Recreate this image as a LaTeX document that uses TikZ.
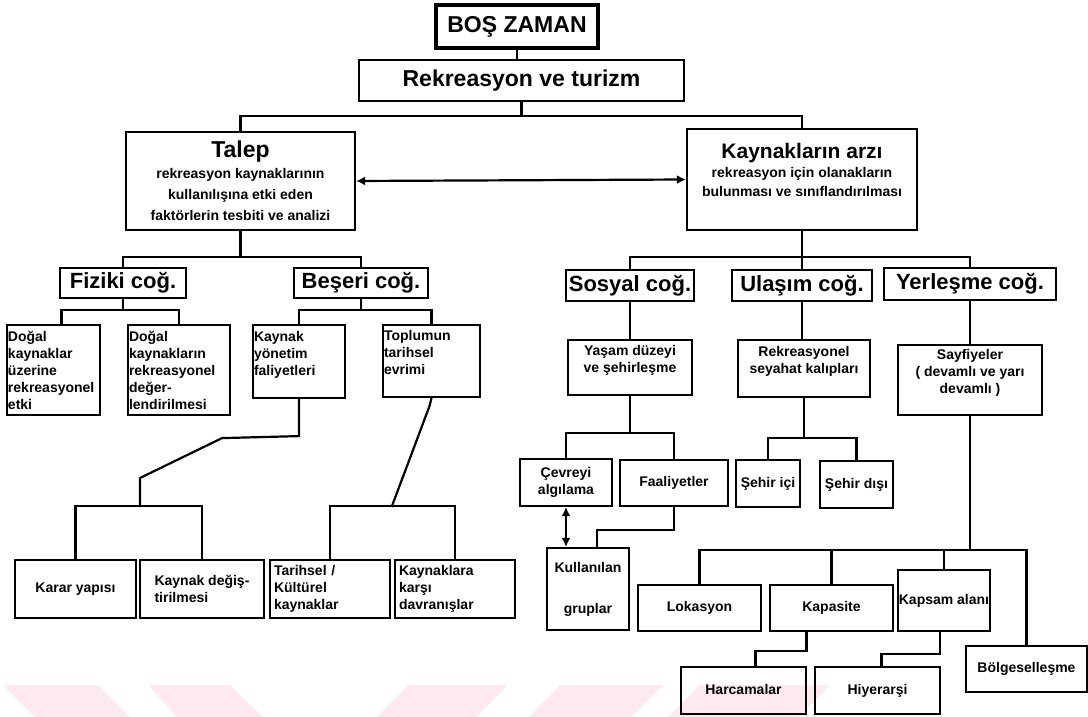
\documentclass[tikz,border=0pt]{standalone}
\usepackage{fontspec}
\setmainfont{Liberation Sans}
\usetikzlibrary{arrows.meta,calc,positioning}
\definecolor{wmpink}{RGB}{252,234,238}

\begin{document}
\begin{tikzpicture}[
    x=1pt, y=-1pt,
    line width=2.2pt, line cap=rect,
    box/.style={draw, line width=2.2pt, inner sep=2pt, align=center,
      font=\fontsize{14}{17}\selectfont\bfseries},
    onebox/.style={box, text height=10pt, text depth=3pt},
    headbox/.style={box, text height=17pt, text depth=5pt, font=\fontsize{23}{27}\selectfont\bfseries},
    cogbox/.style={box, inner sep=1pt, text height=16pt, text depth=5pt, font=\fontsize{22}{25}\selectfont\bfseries},
    leftbox/.style={box, align=left, inner sep=1pt},
    dbl/.style={line cap=butt, {Latex[length=9pt,width=9pt]}-{Latex[length=9pt,width=9pt]}},
 ]
    \path[use as bounding box, fill=white] (0,0) rectangle (1088,717);
    \fill[wmpink] (3,685) -- (98,685) -- (130,717) -- (35,717) -- cycle;
    \fill[wmpink] (148,685) -- (230,685) -- (263,717) -- (177,717) -- cycle;
    \fill[wmpink] (408,685) -- (508,685) -- (477,717) -- (377,717) -- cycle;
    \fill[wmpink] (560,685) -- (663,685) -- (632,717) -- (529,717) -- cycle;
    \fill[wmpink] (700,685) -- (830,685) -- (799,717) -- (669,717) -- cycle;

    \node[headbox, line width=3.2pt, minimum width=162pt, minimum height=43pt] (boszaman) at (517,26.5) {BOŞ ZAMAN};
    \node[headbox, minimum width=325pt, minimum height=41pt] (rekturizm) at (521.5,80.5) {Rekreasyon ve turizm};
    \node[box, minimum width=229pt, minimum height=98pt, font=\fontsize{14}{21}\selectfont\bfseries] (talep) at (240.5,181)
        {{\fontsize{23}{22}\selectfont Talep}\\rekreasyon kaynaklarının\\kullanılışına etki eden\\faktörlerin tesbiti ve analizi};
    \node[box, minimum width=230pt, minimum height=101pt, font=\fontsize{14}{19}\selectfont\bfseries] (arzi) at (802,179.5)
        {{\fontsize{21}{22}\selectfont Kaynakların arzı}\\rekreasyon için olanakların\\bulunması ve sınıflandırılması\\ \mbox{}};

    \coordinate (jtop) at (521.5,116);
    \draw (boszaman.south) -- (boszaman.south |- rekturizm.north);
    \draw (rekturizm.south) -- (jtop);
    \draw (talep.north) |- (jtop) -| (arzi.north);
    \draw[dbl] (talep.east) -- (arzi.west);

    % Talep tarafi
    \node[cogbox, minimum width=126pt, minimum height=30pt] (fiziki) at (123,283) {Fiziki coğ.};
    \node[cogbox, minimum width=134pt, minimum height=30pt] (beseri) at (361,283) {Beşeri coğ.};
    \coordinate (jtalep) at (240.5,257);
    \draw (talep.south) -- (jtalep);
    \draw (fiziki.north) |- (jtalep) -| (beseri.north);

    \node[leftbox, text width=91pt, minimum height=90pt] (dogal1) at (53.5,370) {Doğal\\kaynaklar\\üzerine\\rekreasyonel\\etki};
    \node[leftbox, text width=100pt, minimum height=90pt] (dogal2) at (179,370) {Doğal\\kaynakların\\rekreasyonel\\değer-\\lendirilmesi};
    \coordinate (jfiz) at (123,310);
    \draw (fiziki.south) -- (jfiz);
    \draw ([xshift=8pt]dogal1.north) |- (jfiz) -| (dogal2.north);

    \node[leftbox, text width=90pt, minimum height=73pt] (kaynakyon) at (299,361.5) {Kaynak\\yönetim\\faliyetleri\\ \mbox{}};
    \node[leftbox, text width=95pt, minimum height=72pt] (toplum) at (431.5,361) {Toplumun\\tarihsel\\evrimi\\ \mbox{}};
    \coordinate (jbes) at (361,310);
    \draw (beseri.south) -- (jbes);
    \draw (kaynakyon.north) |- (jbes) -| (toplum.north);

    \node[onebox, minimum width=121pt, minimum height=58pt] (karar) at (75.5,589) {Karar yapısı};
    \node[box, align=left, minimum width=124pt, minimum height=58pt] (kdegis) at (202,589) {Kaynak değiş-\\tirilmesi};
    \node[leftbox, inner sep=4pt, text width=112pt, minimum height=58pt] (tarihsel) at (330,589) {Tarihsel /\\Kültürel\\kaynaklar};
    \node[leftbox, inner sep=4pt, text width=112pt, minimum height=58pt] (kaynaklara) at (455,589) {Kaynaklara\\karşı\\davranışlar};
    \coordinate (jkar) at (140,506);
    \coordinate (jtar) at (392,506);
    \draw (kaynakyon.south) -- ++(0,37) -- ++(-77,2) -- (140,478) -- (jkar);
    \draw (karar.north) |- (jkar) -| (kdegis.north);
    \draw (toplum.south) -- ++(-2,8) -- (jtar);
    \draw (tarihsel.north) |- (jtar) -| (kaynaklara.north);

    % Arz tarafi
    \node[cogbox, minimum width=128pt, minimum height=31pt] (sosyal) at (630,285.5) {Sosyal coğ.};
    \node[cogbox, minimum width=140pt, minimum height=31pt] (ulasim) at (802,285.5) {Ulaşım coğ.};
    \node[cogbox, minimum width=172pt, minimum height=32pt] (yerlesme) at (970,284) {Yerleşme coğ.};
    \coordinate (jarz) at (802,257);
    \draw (arzi.south) -- (jarz);
    \draw (sosyal.north) |- (jarz) -| (yerlesme.north);
    \draw (jarz) -- (ulasim.north);

    \node[box, minimum width=124pt, minimum height=55pt] (yasam) at (630,367.5) {Yaşam düzeyi\\ve şehirleşme\\ \mbox{}};
    \node[box, minimum width=132pt, minimum height=57pt] (rekseyahat) at (804,368.5) {Rekreasyonel\\seyahat kalıpları\\ \mbox{}};
    \node[box, minimum width=144pt, minimum height=70pt] (sayfiye) at (970,380) {Sayfiyeler\\( devamlı ve yarı\\devamlı )\\ \mbox{}};
    \draw (sosyal.south) -- (yasam.north);
    \draw (ulasim.south) -- (ulasim.south |- rekseyahat.north);
    \draw (yerlesme.south) -- (sayfiye.north);

    \node[box, minimum width=92pt, minimum height=47pt] (cevre) at (566,482.5) {Çevreyi\\algılama};
    \node[onebox, minimum width=108pt, minimum height=46pt] (faal) at (674,483) {Faaliyetler};
    \node[box, minimum width=82pt, minimum height=82pt] (kullan) at (588,589) {Kullanılan\\[24pt]gruplar};
    \coordinate (jyas) at (630,433);
    \coordinate (jfaal) at (674,530);
    \draw (yasam.south) -- (jyas);
    \draw (cevre.north) |- (jyas) -| (faal.north);
    \draw[dbl] (cevre.south) -- (cevre.south |- kullan.north);
    \draw (faal.south) -- (jfaal) -| ([xshift=9pt]kullan.north);

    \node[onebox, minimum width=64pt, minimum height=47pt] (sehirici) at (768,483.5) {Şehir içi};
    \node[onebox, minimum width=73pt, minimum height=47pt] (sehirdisi) at (856.5,484.5) {Şehir dışı};
    \coordinate (jrek) at (804,438);
    \draw (rekseyahat.south) -- (jrek);
    \draw (sehirici.north) |- (jrek) -| (sehirdisi.north);

    \node[onebox, minimum width=123pt, minimum height=46pt] (lokasyon) at (699.5,608) {Lokasyon};
    \node[onebox, minimum width=123pt, minimum height=46pt] (kapasite) at (831.5,608) {Kapasite};
    \node[onebox, inner sep=1pt, minimum width=90pt, minimum height=61pt] (kapsam) at (944,600.5) {Kapsam alanı};
    \node[onebox, minimum width=121pt, minimum height=46pt] (bolge) at (1026.5,669) {Bölgeselleşme};
    \coordinate (jsay) at (970,550);
    \draw (sayfiye.south) -- (jsay);
    \draw (lokasyon.north) |- (jsay) -| (bolge.north);
    \draw (kapasite.north) -- (kapasite.north |- jsay);
    \draw (kapsam.north) -- (kapsam.north |- jsay);

    \node[onebox, minimum width=125pt, minimum height=47pt] (harcama) at (743.5,690.5) {Harcamalar};
    \node[onebox, minimum width=125pt, minimum height=47pt] (hiyerarsi) at (877.5,690.5) {Hiyerarşi};
    \draw ([xshift=-25pt]kapasite.south) -- ++(0,19) -| ([xshift=12pt]harcama.north);
    \draw ([xshift=-4pt]kapsam.south) -- ++(0,22) -| ([xshift=4pt]hiyerarsi.north);

\end{tikzpicture}
\end{document}
